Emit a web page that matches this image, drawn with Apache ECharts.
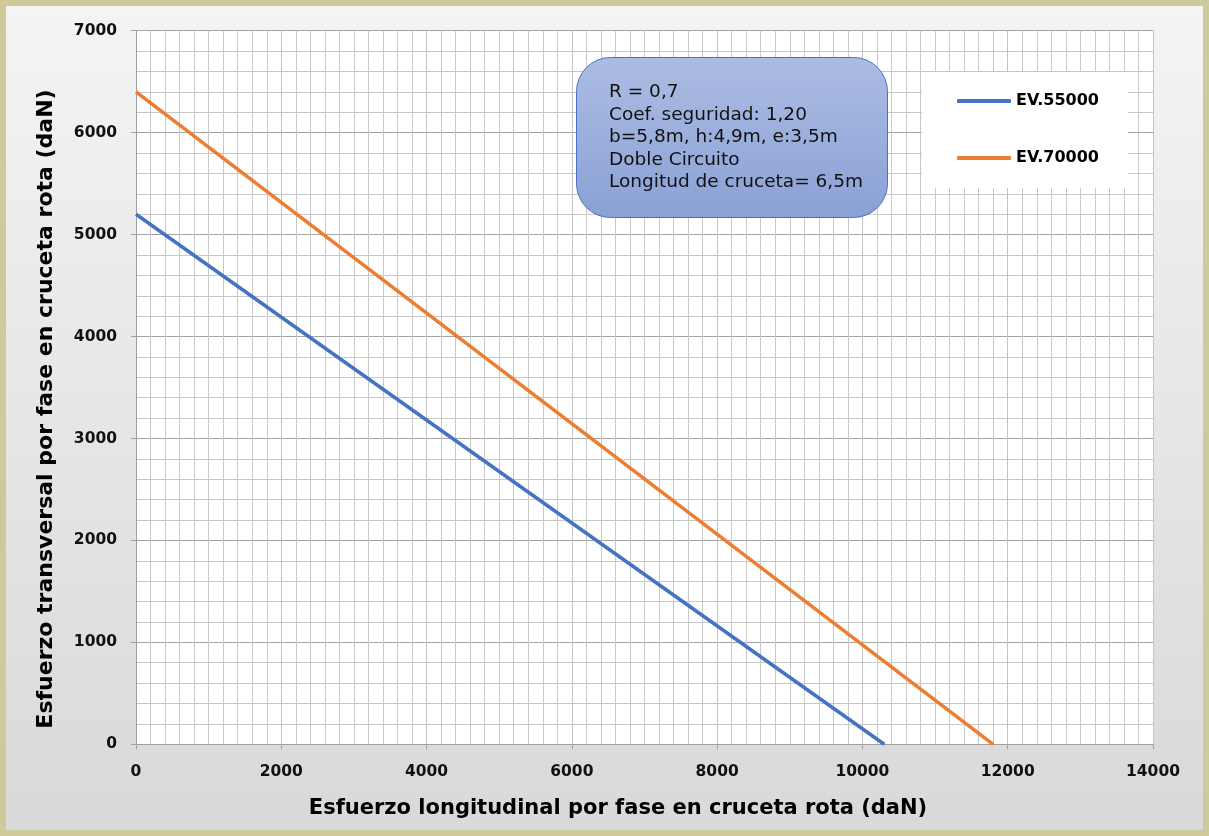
<!DOCTYPE html>
<html>
<head>
<meta charset="utf-8">
<script src="https://cdn.jsdelivr.net/npm/echarts@6/dist/echarts.min.js"></script>
<style>
html,body{margin:0;padding:0;background:#cfca9b;}
#wrap{position:absolute;left:0;top:0;width:1209px;height:836px;background:#cfca9b;}
#chart{position:absolute;left:6px;top:6px;width:1197px;height:824px;background:linear-gradient(180deg,#f4f4f4 0%,#e6e6e6 50%,#d9d9d9 100%);}
</style>
</head>
<body>
<div id="wrap"><div id="chart"></div></div>
<script>
// ---- data ----
const seriesNames = ['EV.55000', 'EV.70000'];
const ev55000 = [[0, 5200], [10300, 0]];
const ev70000 = [[0, 6400], [11800, 0]];
const xRange = [0, 14000];
const yRange = [0, 7000];
const xTitle = 'Esfuerzo longitudinal por fase en cruceta rota (daN)';
const yTitle = 'Esfuerzo transversal por fase en cruceta rota (daN)';
const noteLines = ['R = 0,7', 'Coef. seguridad: 1,20', 'b=5,8m, h:4,9m, e:3,5m', 'Doble Circuito', 'Longitud de cruceta= 6,5m'];

const chart = echarts.init(document.getElementById('chart'), null, {renderer: 'canvas'});
const axisFont = {fontFamily: 'DejaVu Sans', fontWeight: 'bold', fontSize: 15.5, color: '#111', formatter: v => String(v)};
const option = {
  backgroundColor: 'transparent',
  animation: false,
  grid: {left: 130, top: 24.7, right: 50, bottom: 85.7, show: true, backgroundColor: '#ffffff', borderWidth: 0, containLabel: false},
  xAxis: {
    type: 'value', min: xRange[0], max: xRange[1], interval: 2000,
    axisLine: {show: true, onZero: false, lineStyle: {color: '#a0a0a0', width: 1}},
    axisTick: {show: true, inside: false, length: 5, lineStyle: {color: '#a0a0a0'}},
    axisLabel: Object.assign({margin: 20}, axisFont),
    splitLine: {show: true, lineStyle: {color: '#c4c4c4', width: 1}},
    minorTick: {show: false, splitNumber: 10},
    minorSplitLine: {show: true, lineStyle: {color: '#c8c8c8', width: 1}}
  },
  yAxis: {
    type: 'value', min: yRange[0], max: yRange[1], interval: 1000,
    axisLine: {show: true, onZero: false, lineStyle: {color: '#a0a0a0', width: 1}},
    axisTick: {show: true, inside: false, length: 5, lineStyle: {color: '#a0a0a0'}},
    axisLabel: Object.assign({margin: 19}, axisFont),
    splitLine: {show: true, lineStyle: {color: '#a3a3a3', width: 1}},
    minorTick: {show: false, splitNumber: 5},
    minorSplitLine: {show: true, lineStyle: {color: '#c8c8c8', width: 1}}
  },
  legend: {
    show: true, orient: 'vertical', left: 951, top: 87, padding: 0,
    itemGap: 41, itemWidth: 54, itemHeight: 4, icon: 'roundRect',
    data: seriesNames,
    textStyle: {fontFamily: 'DejaVu Sans', fontWeight: 'bold', fontSize: 16, color: '#000', lineHeight: 16, padding: [0, 0, 0, 0]},
    z: 10
  },
  series: [
    {name: seriesNames[0], type: 'line', data: ev55000, showSymbol: false, symbol: 'none',
     lineStyle: {color: '#4472c4', width: 3.5}, itemStyle: {color: '#4472c4'}, z: 3},
    {name: seriesNames[1], type: 'line', data: ev70000, showSymbol: false, symbol: 'none',
     lineStyle: {color: '#ed7d31', width: 3.5}, itemStyle: {color: '#ed7d31'}, z: 3}
  ],
  graphic: [
    {type: 'rect', left: 916, top: 66, z: 5, shape: {width: 206, height: 116}, style: {fill: '#ffffff'}},
    {type: 'rect', left: 570, top: 51, z: 6,
     shape: {width: 311, height: 160, r: 34},
     style: {fill: new echarts.graphic.LinearGradient(0, 0, 0, 1, [{offset: 0, color: '#acbde3'}, {offset: 1, color: '#8aa1d6'}]),
             stroke: '#4a72c4', lineWidth: 1}},
    {type: 'text', left: 603, top: 75, z: 7,
     style: {text: noteLines.join('\n'), font: '18.5px "DejaVu Sans"', lineHeight: 22.5, fill: '#111'}},
    {type: 'text', x: 612, y: 803, z: 7,
     style: {text: xTitle, font: 'bold 21px "DejaVu Sans"', fill: '#000', align: 'center', verticalAlign: 'middle'}},
    {type: 'text', x: 40, y: 403, rotation: Math.PI / 2, z: 7,
     style: {text: yTitle, font: 'bold 22px "DejaVu Sans"', fill: '#000', align: 'center', verticalAlign: 'middle'}}
  ]
};
chart.setOption(option);
</script>
</body>
</html>
